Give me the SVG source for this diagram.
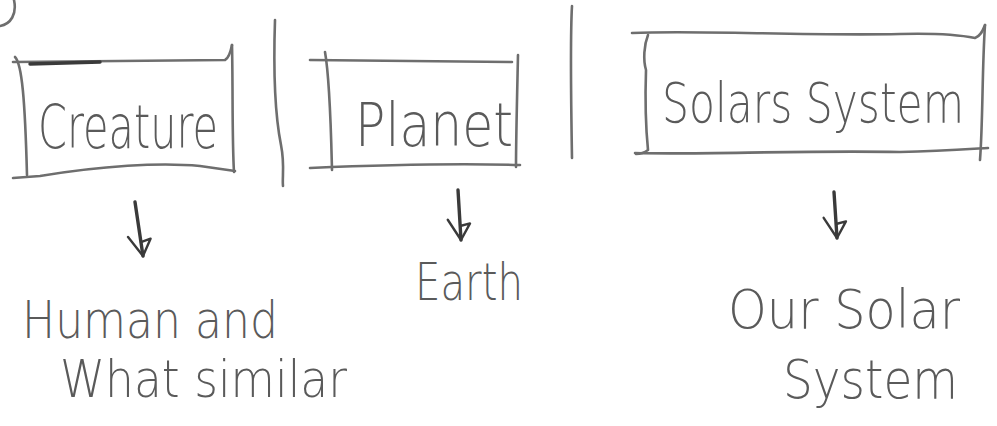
<svg xmlns="http://www.w3.org/2000/svg" width="997" height="426" viewBox="0 0 997 426">
<style>
.bg{fill:#fff}
.ink{fill:none;stroke:#6e6e6e;stroke-width:2.6;stroke-linecap:round;stroke-linejoin:round}
.dark{fill:none;stroke:#3a3a3a;stroke-width:3.4;stroke-linecap:round;stroke-linejoin:round}
.lbl{font-family:"DejaVu Sans","Liberation Sans",sans-serif;font-weight:200;fill:#5a5a5a}
</style>
<defs>
<marker id="head" viewBox="0 0 28 28" refX="24" refY="13" markerWidth="28" markerHeight="28" markerUnits="userSpaceOnUse" orient="auto">
<path d="M3,25 L24,13 L8,3 L10,13" fill="none" stroke="#3a3a3a" stroke-width="2.4" stroke-linejoin="round" stroke-linecap="round"/>
</marker>
</defs>
<rect class="bg" width="997" height="426"/>
<path class="ink" d="M14,0 C17,14 11,24 0,26"/>
<g id="dividers">
<path class="ink" d="M275,20 C273,80 276,120 281,145 C285,165 282,178 283,186"/>
<path class="ink" d="M572,6 C570,40 571,100 572,158"/>
</g>
<g id="creature">
<path class="ink" d="M13,62 L225,60 C229,58 231,50 232,45"/>
<path class="dark" d="M30,64 L100,62"/>
<path class="ink" d="M15,57 C22,64 25,100 27,175"/>
<path class="ink" d="M232,45 C233,90 232,140 234,172"/>
<path class="ink" d="M13,178 L40,176 C100,166 160,162 200,166 L235,171"/>
<text class="lbl" x="38" y="148" font-size="60" textLength="180" lengthAdjust="spacingAndGlyphs">Creature</text>
</g>
<g id="planet">
<path class="ink" d="M310,60 L512,62"/>
<path class="ink" d="M325,52 C330,80 331,130 332,170"/>
<path class="ink" d="M518,55 C517,100 516,140 516,167"/>
<path class="ink" d="M310,168 C380,165 450,163 520,165"/>
<text class="lbl" x="355" y="146" font-size="60" textLength="158" lengthAdjust="spacingAndGlyphs">Planet</text>
</g>
<g id="solar-system">
<path class="ink" d="M632,33 C700,30 800,36 900,34 C940,33 965,36 975,38 C981,36 983,30 985,25"/>
<path class="ink" d="M648,35 C644,45 643,60 646,70 C645,100 646,130 648,150 C644,153 640,154 636,154"/>
<path class="ink" d="M985,25 C982,70 983,120 980,160"/>
<path class="ink" d="M635,153 C700,155 800,150 900,152 C940,151 970,149 988,148"/>
<text class="lbl" transform="translate(662,122) scale(1,1.3)" x="0" y="0" font-size="43" textLength="302" lengthAdjust="spacingAndGlyphs">Solars System</text>
</g>
<g id="connectors">
<path class="dark" d="M135,202 L143,256" marker-end="url(#head)"/>
<path class="dark" d="M458,190 L461,240" marker-end="url(#head)"/>
<path class="dark" d="M834,192 L837,238" marker-end="url(#head)"/>
</g>
<g id="human">
<text class="lbl" x="22" y="338" font-size="52" textLength="256" lengthAdjust="spacingAndGlyphs">Human and</text>
<text class="lbl" x="60" y="397" font-size="52" textLength="287" lengthAdjust="spacingAndGlyphs">What similar</text>
</g>
<g id="earth">
<text class="lbl" x="415" y="300" font-size="52" textLength="108" lengthAdjust="spacingAndGlyphs">Earth</text>
</g>
<g id="our-solar-system">
<text class="lbl" x="728" y="328" font-size="54" textLength="232" lengthAdjust="spacingAndGlyphs">Our Solar</text>
<text class="lbl" x="783" y="398" font-size="54" textLength="175" lengthAdjust="spacingAndGlyphs">System</text>
</g>
</svg>
